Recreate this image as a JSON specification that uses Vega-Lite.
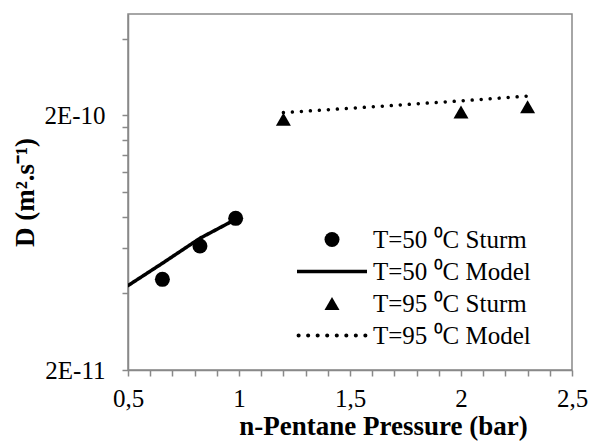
{
  "$schema": "https://vega.github.io/schema/vega-lite/v6.json",
  "width": 444,
  "height": 356,
  "autosize": {"type": "none"},
  "padding": {"left": 128, "top": 14, "right": 19, "bottom": 76},
  "background": "white",
  "config": {
    "view": {"stroke": "#898989", "strokeWidth": 1.5},
    "font": "Liberation Serif",
    "axis": {
      "grid": false,
      "domainColor": "#898989",
      "domainWidth": 1.5,
      "tickColor": "#898989",
      "tickWidth": 1.5,
      "labelFont": "Liberation Serif",
      "labelFontSize": 25,
      "labelColor": "black",
      "labelFlush": false,
      "labelOverlap": false,
      "titleFont": "Liberation Serif",
      "titleFontSize": 27,
      "titleFontWeight": "bold",
      "titleColor": "black"
    }
  },
  "data": {
    "values": [
      {"series": "T=50 ⁰C Sturm", "kind": "Sturm", "pressure": 0.655, "D": 4.54e-11},
      {"series": "T=50 ⁰C Sturm", "kind": "Sturm", "pressure": 0.824, "D": 6.14e-11},
      {"series": "T=50 ⁰C Sturm", "kind": "Sturm", "pressure": 0.985, "D": 7.88e-11},
      {"series": "T=50 ⁰C Model", "kind": "Model", "pressure": 0.5, "D": 4.29e-11},
      {"series": "T=50 ⁰C Model", "kind": "Model", "pressure": 0.655, "D": 5.25e-11},
      {"series": "T=50 ⁰C Model", "kind": "Model", "pressure": 0.824, "D": 6.58e-11},
      {"series": "T=50 ⁰C Model", "kind": "Model", "pressure": 0.985, "D": 7.81e-11},
      {"series": "T=95 ⁰C Sturm", "kind": "Sturm", "pressure": 1.2, "D": 1.93e-10},
      {"series": "T=95 ⁰C Sturm", "kind": "Sturm", "pressure": 2.0, "D": 2.06e-10},
      {"series": "T=95 ⁰C Sturm", "kind": "Sturm", "pressure": 2.3, "D": 2.16e-10},
      {"series": "T=95 ⁰C Model", "kind": "Model", "pressure": 1.2, "D": 2.05e-10},
      {"series": "T=95 ⁰C Model", "kind": "Model", "pressure": 1.6, "D": 2.16e-10},
      {"series": "T=95 ⁰C Model", "kind": "Model", "pressure": 2.0, "D": 2.28e-10},
      {"series": "T=95 ⁰C Model", "kind": "Model", "pressure": 2.3, "D": 2.38e-10}
    ]
  },
  "encoding": {
    "x": {
      "field": "pressure",
      "type": "quantitative",
      "scale": {"domain": [0.5, 2.5], "nice": false, "zero": false},
      "axis": {
        "values": [0.5, 0.6, 0.7, 0.8, 0.9, 1, 1.1, 1.2, 1.3, 1.4, 1.5, 1.6, 1.7, 1.8, 1.9, 2, 2.1, 2.2, 2.3, 2.4, 2.5],
        "labelExpr": "abs(datum.value*2 - round(datum.value*2)) < 0.01 ? replace(format(datum.value, '~g'), '.', ',') : ''",
        "tickSize": 6,
        "labelPadding": 10,
        "title": "n-Pentane Pressure (bar)",
        "titleX": 255,
        "titleY": 56,
        "titleBaseline": "middle",
        "titleAnchor": "middle",
        "titleAlign": "center"
      }
    },
    "y": {
      "field": "D",
      "type": "quantitative",
      "scale": {"type": "log", "domain": [2e-11, 5e-10], "nice": false, "zero": false},
      "axis": {
        "values": [2e-11, 4e-11, 6e-11, 8e-11, 1e-10, 1.2e-10, 1.4e-10, 1.6e-10, 1.8e-10, 2e-10, 4e-10],
        "labelExpr": "abs(datum.value/2e-11 - 1) < 0.01 ? '2E-11' : (abs(datum.value/2e-10 - 1) < 0.01 ? '2E-10' : '')",
        "tickSize": 6,
        "labelPadding": 17,
        "title": "D (m².s⁻¹)",
        "titleX": -103,
        "titleY": 178,
        "titleAngle": -90,
        "titleBaseline": "middle",
        "titleAlign": "center",
        "titleAnchor": "middle"
      }
    }
  },
  "layer": [
    {
      "transform": [{"filter": "datum.kind == 'Model'"}],
      "mark": {"type": "line", "color": "black", "strokeCap": "round", "strokeWidth": 3.5, "clip": true},
      "encoding": {
        "strokeDash": {
          "field": "series",
          "type": "nominal",
          "scale": {"domain": ["T=50 ⁰C Model", "T=95 ⁰C Model"], "range": [[1, 0], [0.01, 9]]},
          "legend": null
        }
      }
    },
    {
      "transform": [{"filter": "datum.kind == 'Sturm'"}],
      "mark": {"type": "point", "filled": true, "color": "black", "size": 225, "opacity": 1},
      "encoding": {
        "shape": {
          "field": "series",
          "type": "nominal",
          "scale": {
            "domain": ["T=50 ⁰C Sturm", "T=50 ⁰C Model", "T=95 ⁰C Sturm", "T=95 ⁰C Model"],
            "range": [
              "circle",
              "M-4.667,-0.233H4.667V0.233H-4.667Z",
              "M0,-0.87L-1,0.87L1,0.87Z",
              "M-4.72,0a0.27,0.27,0,1,0,0.54,0a0.27,0.27,0,1,0,-0.54,0ZM-3.45,0a0.27,0.27,0,1,0,0.54,0a0.27,0.27,0,1,0,-0.54,0ZM-2.18,0a0.27,0.27,0,1,0,0.54,0a0.27,0.27,0,1,0,-0.54,0ZM-0.91,0a0.27,0.27,0,1,0,0.54,0a0.27,0.27,0,1,0,-0.54,0ZM0.37,0a0.27,0.27,0,1,0,0.54,0a0.27,0.27,0,1,0,-0.54,0ZM1.64,0a0.27,0.27,0,1,0,0.54,0a0.27,0.27,0,1,0,-0.54,0ZM2.91,0a0.27,0.27,0,1,0,0.54,0a0.27,0.27,0,1,0,-0.54,0ZM4.18,0a0.27,0.27,0,1,0,0.54,0a0.27,0.27,0,1,0,-0.54,0Z"
            ]
          },
          "legend": {
            "title": null,
            "orient": "none",
            "legendX": 191.5,
            "legendY": 213,
            "padding": 0,
            "symbolSize": 225,
            "symbolFillColor": "black",
            "symbolOpacity": 1,
            "labelFont": "Liberation Serif",
            "labelFontSize": 25,
            "labelColor": "black",
            "labelLimit": 0,
            "labelOffset": 28.5,
            "rowPadding": 6
          }
        }
      }
    }
  ]
}
